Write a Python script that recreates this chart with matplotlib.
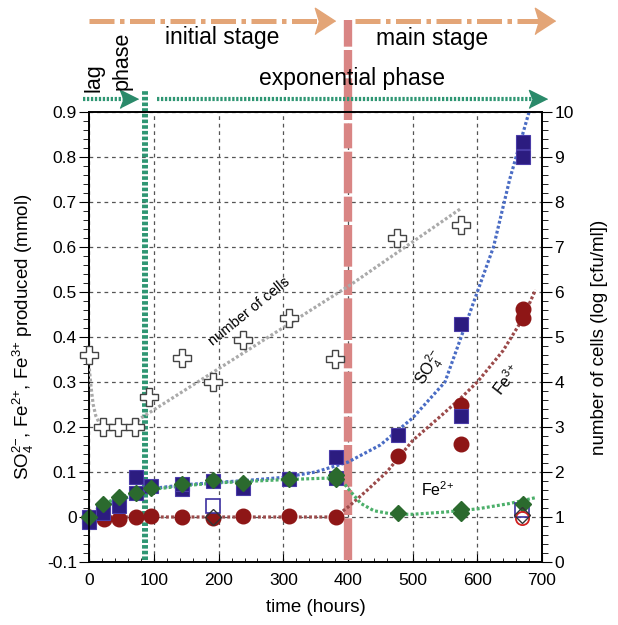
import matplotlib
matplotlib.use("Agg")
import matplotlib.pyplot as plt
from matplotlib import transforms
from matplotlib.ticker import MultipleLocator, FuncFormatter

plt.rcParams["font.family"] = ["Liberation Sans", "DejaVu Sans"]
plt.rcParams["axes.unicode_minus"] = False
plt.rcParams["mathtext.default"] = "regular"

# --- datos ---
so4_t = [0, 0, 21, 46, 72, 72, 96, 143, 143, 191, 238, 309, 381, 381, 477, 574, 574, 670, 670]
so4_v = [0.0, -0.01, 0.01, 0.025, 0.09, 0.053, 0.07, 0.062, 0.073, 0.08, 0.065, 0.085,
         0.133, 0.087, 0.182, 0.225, 0.429, 0.833, 0.80]
so4_open_t = [191, 669]
so4_open_v = [0.025, 0.015]

fe3_t = [0, 23, 46, 72, 96, 143, 191, 238, 309, 381, 477, 574, 574, 670, 670]
fe3_v = [0.0, -0.005, -0.005, 0.0, 0.003, 0.0, -0.002, 0.003, 0.002, 0.001,
         0.136, 0.249, 0.162, 0.462, 0.442]
fe3_open_t = [669]
fe3_open_v = [-0.003]

fe2_t = [0, 21, 46, 72, 96, 143, 191, 238, 309, 381, 381, 477, 574, 574, 670]
fe2_v = [0.0, 0.029, 0.045, 0.053, 0.064, 0.074, 0.082, 0.076, 0.084, 0.093, 0.085,
         0.008, 0.017, 0.01, 0.029]
fe2_open_t = [191, 669]
fe2_open_v = [0.0, 0.005]

cells_t = [0, 21, 45, 71, 93, 143, 191, 238, 309, 380, 476, 574]
cells_v = [4.6, 3.0, 3.0, 3.0, 3.67, 4.53, 4.0, 4.93, 5.42, 4.51, 7.2, 7.49]

# curvas de ajuste (puntos leidos sobre las lineas punteadas)
so4_fit_t = [0, 20, 45, 70, 95, 150, 200, 250, 300, 350, 400, 450, 500, 550, 600, 625, 650, 680]
so4_fit_v = [0.0, 0.02, 0.035, 0.05, 0.063, 0.072, 0.077, 0.082, 0.088, 0.1, 0.122,
             0.16, 0.22, 0.30, 0.50, 0.60, 0.75, 0.90]
fe3_fit_t = [0, 100, 200, 300, 380, 400, 430, 460, 500, 540, 575, 600, 640, 670, 690]
fe3_fit_v = [0.0, 0.0, 0.0, 0.0, 0.0, 0.022, 0.06, 0.1, 0.17, 0.22, 0.265, 0.30, 0.37, 0.44, 0.505]
fe2_fit_t = [0, 20, 45, 70, 95, 150, 200, 300, 380, 392, 405, 420, 440, 470, 500, 550, 600, 650, 690]
fe2_fit_v = [0.0, 0.028, 0.043, 0.053, 0.061, 0.07, 0.076, 0.083, 0.087, 0.078, 0.055, 0.03,
             0.014, 0.006, 0.006, 0.011, 0.018, 0.03, 0.043]
cells_fit_t = [0, 3, 6, 10, 15, 20, 30, 50, 70, 80, 403, 574]
cells_fit_v = [4.3, 3.85, 3.5, 3.25, 3.1, 3.02, 3.0, 3.0, 3.05, 3.2, 6.15, 7.85]

NAVY = "#2c1c80"
RED = "#8e1616"
GREEN = "#2b6a2e"
ORANGE = "#e3a577"
TEAL = "#2f9673"
PINK = "#d98584"

fig = plt.figure(figsize=(6.18, 6.25), dpi=100)
ax = fig.add_axes([0.1445, 0.1008, 0.7325, 0.72])
ax2 = ax.twinx()

ax.set_xlim(0, 700)
ax.set_ylim(-0.1, 0.9)
ax2.set_ylim(0, 10)

# grilla
ax.grid(True, which="major", color="#555555", linestyle=(0, (3, 3)), linewidth=0.9)
ax.set_axisbelow(True)

# lineas verticales de fases
tr = transforms.blended_transform_factory(ax.transData, ax.transAxes)
ax.plot([400, 400], [0.004, 1.204], transform=tr, clip_on=False, color=PINK, lw=6,
        dashes=(5, 0.4, 3, 0.4), solid_capstyle="butt", zorder=2)
ax.plot([86, 86], [0.004, 1.049], transform=tr, clip_on=False, color=TEAL, lw=4.3,
        dashes=(0.6, 0.35), zorder=2)

# curvas de ajuste
fit_kw = dict(lw=2.3, dashes=(0.9, 0.7), zorder=3)
ax.plot(so4_fit_t, so4_fit_v, color="#4a6cc4", **fit_kw)
ax.plot(fe3_fit_t, fe3_fit_v, color="#9b4a4a", **fit_kw)
ax.plot(fe2_fit_t, fe2_fit_v, color="#4caf6a", **fit_kw)
ax2.plot(cells_fit_t, cells_fit_v, color="#aaaaaa", **fit_kw)

# datos
ax.plot(fe3_t, fe3_v, "o", ms=10.5, color=RED, mec=RED, clip_on=False, zorder=4)
ax.plot(so4_t, so4_v, "s", ms=10, color=NAVY, mec="#4a3ca8", mew=0.8, clip_on=False, zorder=5)
ax.plot(fe2_t, fe2_v, "D", ms=8, color=GREEN, mec=GREEN, clip_on=False, zorder=6)
ax.plot(so4_open_t, so4_open_v, "s", ms=10, mfc="white", mec="#3c30a0", mew=1.2, zorder=5)
ax.plot(fe3_open_t, fe3_open_v, "o", ms=9.5, mfc="none", mec="#d02020", mew=1.3, zorder=6)
ax.plot(fe2_open_t, fe2_open_v, "D", ms=8, mfc="none", mec="#333333", mew=1.0, zorder=6)
ax2.plot(cells_t, cells_v, "P", ms=13, mfc="white", mec="#444444", mew=1.0,
         clip_on=False, zorder=5)

# flechas superiores
head_o = [(0.5, 0), (-0.5, 0.65), (-0.3, 0), (-0.5, -0.65)]
head_g = [(0.5, 0), (-0.5, 0.5), (-0.3, 0), (-0.5, -0.5)]
for x0, x1, xh in [(0, 355, 364.5), (411, 695, 704.5)]:
    ax.plot([x0, x1], [1.202, 1.202], transform=tr, clip_on=False, color=ORANGE,
            lw=3.6, dashes=(5, 1.1, 0.9, 1.1), solid_capstyle="butt")
    ax.plot([xh], [1.202], transform=tr, clip_on=False, marker=head_o, ms=19,
            color=ORANGE, mec=ORANGE)
for x0, x1, xh in [(-10, 55, 61.4), (104.7, 690, 693.9)]:
    ax.plot([x0, x1], [1.029, 1.029], transform=tr, clip_on=False, color=TEAL,
            lw=3, dashes=(0.55, 0.4))
    ax.plot([xh], [1.029], transform=tr, clip_on=False, marker=head_g, ms=13,
            color="#2a8a6a", mec="#2a8a6a")

ax.text(205, 1.151, "initial stage", transform=tr, ha="center", va="baseline", fontsize=16.5)
ax.text(530, 1.149, "main stage", transform=tr, ha="center", va="baseline", fontsize=16.5)
ax.text(406, 1.06, "exponential phase", transform=tr, ha="center", va="baseline", fontsize=16.5)
ax.text(7.7, 1.044, "lag", transform=tr, ha="center", va="bottom", rotation=90, fontsize=15.5)
ax.text(50, 1.049, "phase", transform=tr, ha="center", va="bottom", rotation=90, fontsize=15.5)

# etiquetas de las curvas
SO4 = "SO$_4^{2{-}}$"
FE2 = "Fe$^{2{+}}$"
FE3 = "Fe$^{3{+}}$"
ax.text(248, 0.456, "number of cells", rotation=39, ha="center", va="center", fontsize=10.5)
ax.text(527, 0.331, SO4, rotation=58, ha="center", va="center", fontsize=11.5)
ax.text(646, 0.304, FE3, rotation=52, ha="center", va="center", fontsize=11.5)
ax.text(539, 0.06, FE2, ha="center", va="center", fontsize=11.5)

# ejes y ticks
ax.xaxis.set_major_locator(MultipleLocator(100))
ax.xaxis.set_minor_locator(MultipleLocator(20))
ax.yaxis.set_major_locator(MultipleLocator(0.1))
ax.yaxis.set_minor_locator(MultipleLocator(0.02))
ax.yaxis.set_major_formatter(FuncFormatter(lambda v, p: "0" if abs(v) < 1e-9 else f"{v:.1f}"))
ax2.yaxis.set_major_locator(MultipleLocator(1))
ax2.yaxis.set_minor_locator(MultipleLocator(0.2))

ax.tick_params(axis="x", which="both", direction="in", labelsize=12.5, pad=8)
ax.tick_params(axis="x", which="major", length=6)
ax.tick_params(axis="x", which="minor", length=3)
ax.tick_params(axis="y", which="both", direction="out", labelsize=12.5, pad=2)
ax.tick_params(axis="y", which="major", length=7)
ax.tick_params(axis="y", which="minor", length=4)
ax2.tick_params(axis="y", which="both", direction="out", labelsize=12.5, pad=2)
ax2.tick_params(axis="y", which="major", length=7)
ax2.tick_params(axis="y", which="minor", length=4)

for a in (ax, ax2):
    for s in a.spines.values():
        s.set_linewidth(1.2)

ax.set_xlabel("time (hours)", fontsize=13.5, labelpad=8)
ax.set_ylabel(f"{SO4}, {FE2}, {FE3} produced (mmol)", fontsize=13.5, labelpad=8)
ax2.set_ylabel("number of cells (log [cfu/ml])", fontsize=13.5, labelpad=12)

fig.savefig("out.png", dpi=100)
